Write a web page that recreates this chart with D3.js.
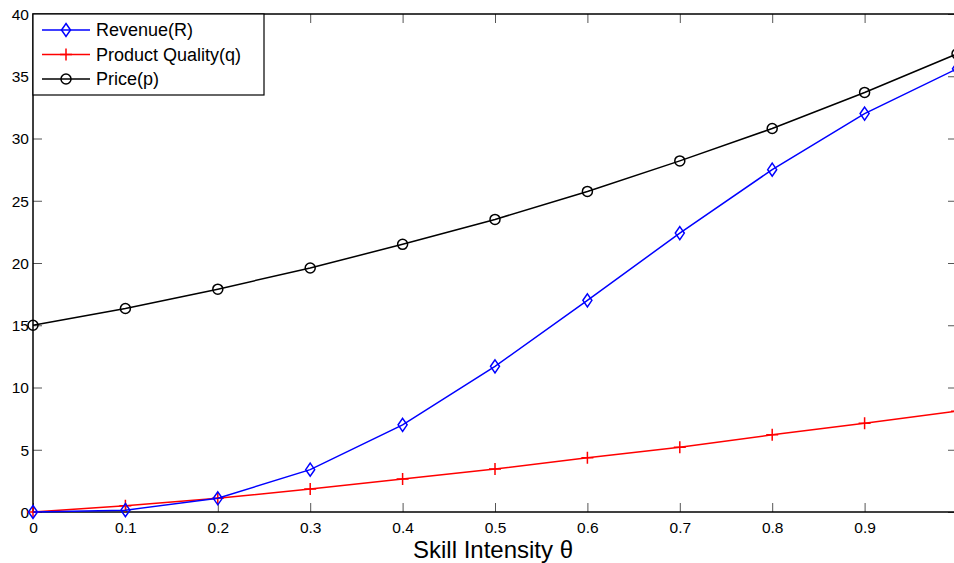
<!DOCTYPE html>
<html>
<head>
<meta charset="utf-8">
<script src="https://cdn.jsdelivr.net/npm/d3@7"></script>
<style>
	body { margin: 0; background: #fff; }
	text { font-family: "Liberation Sans", Arial, sans-serif; fill: #000; }
	.tick text { font-size: 15.5px; }
	.tick line { stroke: #555; }
	.domain { display: none; }
</style>
</head>
<body>
<div id="chart"></div>
<script>
//--------------------------------- Data ---------------------------------------

var theta = [0, 0.1, 0.2, 0.3, 0.4, 0.5, 0.6, 0.7, 0.8, 0.9, 1.0];
var revenue = [0, 0.15, 1.1, 3.4, 7.0, 11.7, 17.0, 22.4, 27.5, 32.0, 35.6];
var quality = [0, 0.5, 1.1, 1.85, 2.65, 3.45, 4.35, 5.2, 6.2, 7.12, 8.1];
var price = [15.0, 16.35, 17.9, 19.6, 21.5, 23.5, 25.75, 28.2, 30.8, 33.7, 36.8];

var xTicks = [0, 0.1, 0.2, 0.3, 0.4, 0.5, 0.6, 0.7, 0.8, 0.9];
var yTicks = [0, 5, 10, 15, 20, 25, 30, 35, 40];

var seriesNames = ["Revenue(R)", "Product Quality(q)", "Price(p)"];

//--------------------------------- Set up svg ---------------------------------------

var margin = {top: 14, right: -3, bottom: 51, left: 33};
var W = 954, H = 563;
var width = W - margin.left - margin.right;
var height = H - margin.top - margin.bottom;

var svg = d3.select("#chart")
	.append("svg")
	.attr("width", W)
	.attr("height", H)
	.append("g")
	.attr("transform", "translate(" + margin.left + "," + margin.top + ")");

var x = d3.scaleLinear().domain([0, 1]).range([0, width]);
var y = d3.scaleLinear().domain([0, 40]).range([height, 0]);

//--------------------------------- Axes ---------------------------------------

var tickLen = 9;

svg.append("g")
	.attr("transform", "translate(0," + height + ")")
	.call(d3.axisBottom(x).tickValues(xTicks).tickSize(-tickLen).tickPadding(6).tickFormat(d3.format("")))
	.selectAll(".tick text").attr("dy", "0.95em");

svg.append("g")
	.call(d3.axisTop(x).tickValues(xTicks).tickSize(-tickLen).tickFormat(""));

svg.append("g")
	.call(d3.axisLeft(y).tickValues(yTicks).tickSize(-tickLen).tickPadding(4))
	.selectAll(".tick text").attr("dy", "0.35em");

svg.append("g")
	.attr("transform", "translate(" + width + ",0)")
	.call(d3.axisRight(y).tickValues(yTicks).tickSize(-tickLen).tickFormat(""));

//Box
svg.append("rect")
	.attr("width", width)
	.attr("height", height)
	.attr("fill", "none")
	.attr("stroke", "#000")
	.attr("stroke-width", 1.5);

//X label
svg.append("text")
	.attr("x", width / 2 - 2)
	.attr("y", height + 46)
	.attr("text-anchor", "middle")
	.style("font-size", "24px")
	.text("Skill Intensity θ");

//--------------------------------- Lines ---------------------------------------

var series = [
	{name: seriesNames[0], values: revenue, color: "#0000ff", marker: "diamond"},
	{name: seriesNames[1], values: quality, color: "#ff0000", marker: "plus"},
	{name: seriesNames[2], values: price, color: "#000000", marker: "circle"}
];

var line = d3.line()
	.x(function(d, i) { return x(theta[i]); })
	.y(function(d) { return y(d); });

function drawMarker(g, type, color) {
	if (type === "diamond") {
		g.append("path").attr("d", "M0,-6.5L4.5,0L0,6.5L-4.5,0Z")
			.attr("fill", "none").attr("stroke", color).attr("stroke-width", 1.5);
	} else if (type === "plus") {
		g.append("path").attr("d", "M-6,0H6M0,-6V6")
			.attr("fill", "none").attr("stroke", color).attr("stroke-width", 1.5);
	} else {
		g.append("circle").attr("r", 5)
			.attr("fill", "none").attr("stroke", color).attr("stroke-width", 1.5);
	}
}

//Draw in reverse so the revenue line sits on top
series.slice().reverse().forEach(function(s) {
	svg.append("path")
		.datum(s.values)
		.attr("fill", "none")
		.attr("stroke", s.color)
		.attr("stroke-width", 1.5)
		.attr("d", line);

	s.values.forEach(function(v, i) {
		var m = svg.append("g").attr("transform", "translate(" + x(theta[i]) + "," + y(v) + ")");
		drawMarker(m, s.marker, s.color);
	});
});

//--------------------------------- Legend ---------------------------------------

var legend = svg.append("g");

legend.append("rect")
	.attr("width", 231)
	.attr("height", 81)
	.attr("fill", "#fff")
	.attr("stroke", "#000")
	.attr("stroke-width", 1.2);

series.forEach(function(s, i) {
	var row = legend.append("g").attr("transform", "translate(0," + (16 + i * 24.5) + ")");
	row.append("line")
		.attr("x1", 9).attr("x2", 57)
		.attr("stroke", s.color).attr("stroke-width", 1.5);
	var m = row.append("g").attr("transform", "translate(33,0)");
	drawMarker(m, s.marker, s.color);
	row.append("text")
		.attr("x", 63)
		.attr("dy", "0.35em")
		.style("font-size", "18px")
		.text(s.name);
});
</script>
</body>
</html>
